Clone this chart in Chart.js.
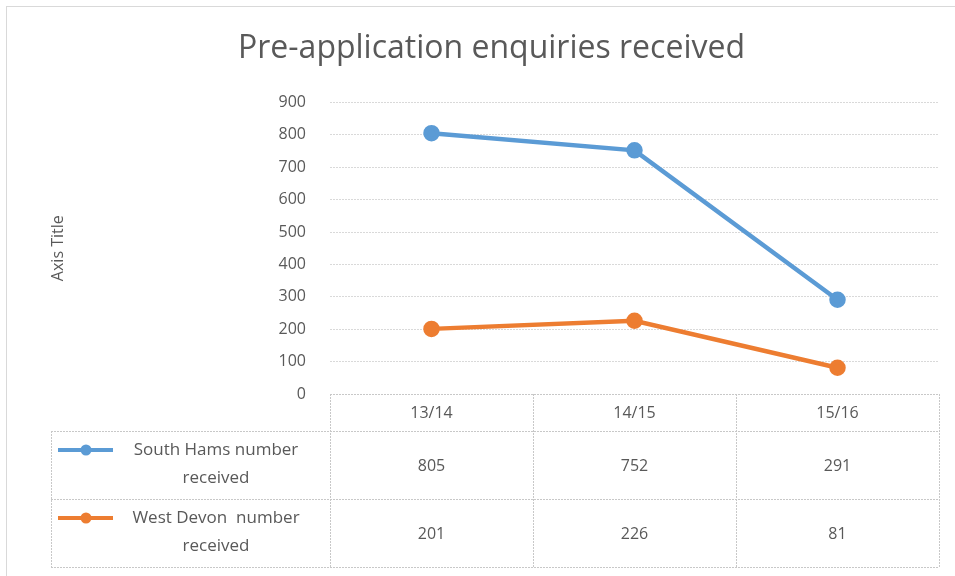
<!DOCTYPE html>
<html>
<head>
<meta charset="utf-8">
<script src="https://cdn.jsdelivr.net/npm/chart.js@4"></script>
<style>
  html,body{margin:0;padding:0;background:#fff;}
  #wrap{position:absolute;left:0;top:0;width:955px;height:576px;}
  #frame{position:absolute;left:6px;top:6px;width:960px;height:580px;border:1px solid #d9d9d9;box-sizing:border-box;pointer-events:none;}
</style>
</head>
<body>
<div id="wrap"><canvas id="chart" width="955" height="576"></canvas></div>
<div id="frame"></div>
<script>
// data
const categories = ["13/14", "14/15", "15/16"];
const southHams = [805, 752, 291];
const westDevon = [201, 226, 81];
const seriesNames = ["South Hams number received", "West Devon  number received"];
const seriesLines = [["South Hams number", "received"], ["West Devon  number", "received"]];
const yMin = 0, yMax = 900, yStep = 100;

const BLUE = "#5b9bd5", ORANGE = "#ed7d31", TXT = "#595959";
const FONT = "'Open Sans', 'Noto Sans', sans-serif";

// draws the Excel style data table under the plot, from the x scale
const dataTable = {
  id: "dataTable",
  afterDraw(chart){
    const {ctx, chartArea:{left, right, bottom}, scales:{x}} = chart;
    const hdrH = 37, rowH = 68, legLeft = 51;
    const edges = [left];
    for(let i = 0; i < categories.length - 1; i++){
      edges.push((x.getPixelForValue(i) + x.getPixelForValue(i + 1)) / 2);
    }
    edges.push(right);
    const tableBottom = bottom + hdrH + rowH * 2;

    ctx.save();
    ctx.strokeStyle = "#c8c8c8";
    ctx.lineWidth = 1;
    ctx.setLineDash([2, 1]);
    ctx.beginPath();
    // horizontal
    ctx.moveTo(left, bottom + 0.5); ctx.lineTo(right, bottom + 0.5);
    for(let r = 0; r <= 2; r++){
      const y = Math.round(bottom + hdrH + r * rowH) + 0.5;
      ctx.moveTo(legLeft, y); ctx.lineTo(right, y);
    }
    // vertical
    edges.forEach(e => {
      const xx = Math.round(e) + 0.5;
      ctx.moveTo(xx, bottom); ctx.lineTo(xx, tableBottom);
    });
    ctx.moveTo(legLeft + 0.5, bottom + hdrH); ctx.lineTo(legLeft + 0.5, tableBottom);
    ctx.stroke();
    ctx.setLineDash([]);

    ctx.fillStyle = TXT;
    ctx.font = `16px ${FONT}`;
    ctx.textAlign = "center";
    ctx.textBaseline = "middle";
    categories.forEach((c, i) => {
      ctx.fillText(c, x.getPixelForValue(i), bottom + hdrH / 2 + 1);
    });

    chart.data.datasets.forEach((ds, r) => {
      const top = bottom + hdrH + r * rowH;
      ds.data.forEach((v, i) => {
        ctx.fillStyle = TXT;
        ctx.fillText(String(v), x.getPixelForValue(i), top + rowH / 2 + 1);
      });
      // legend key
      const ky = top + 19;
      ctx.strokeStyle = ds.borderColor;
      ctx.lineWidth = 4;
      ctx.beginPath();
      ctx.moveTo(58, ky); ctx.lineTo(113, ky);
      ctx.stroke();
      ctx.fillStyle = ds.borderColor;
      ctx.beginPath();
      ctx.arc(86, ky, 5.5, 0, Math.PI * 2);
      ctx.fill();
      ctx.fillStyle = TXT;
      ctx.font = `17px ${FONT}`;
      seriesLines[r].forEach((ln, k) => {
        ctx.fillText(ln, 216, ky + k * 28);
      });
      ctx.font = `16px ${FONT}`;
    });
    ctx.restore();
  }
};

const yTicks = [];
for(let v = yMin; v <= yMax; v += yStep) yTicks.push(v);

new Chart(document.getElementById("chart"), {
  type: "line",
  data: {
    labels: categories,
    datasets: [
      {
        label: seriesNames[0],
        data: southHams,
        borderColor: BLUE,
        backgroundColor: BLUE,
        borderWidth: 4.5,
        pointRadius: 6,
        pointHoverRadius: 6,
        tension: 0
      },
      {
        label: seriesNames[1],
        data: westDevon,
        borderColor: ORANGE,
        backgroundColor: ORANGE,
        borderWidth: 4.5,
        pointRadius: 6,
        pointHoverRadius: 6,
        tension: 0
      }
    ]
  },
  options: {
    responsive: false,
    animation: false,
    layout: {padding: {left: 44, right: 16, top: 0, bottom: 182}},
    plugins: {
      legend: {display: false},
      tooltip: {enabled: false},
      title: {
        display: true,
        text: "Pre-application enquiries received",
        color: TXT,
        font: {family: FONT, size: 32, weight: "normal"},
        padding: {top: 30, bottom: 34}
      }
    },
    scales: {
      x: {
        display: false,
        offset: true
      },
      y: {
        min: yMin,
        max: yMax,
        afterBuildTicks: s => { s.ticks = yTicks.map(v => ({value: v})); },
        afterFit: s => { s.width = 330 - 44; },
        ticks: {color: TXT, font: {family: FONT, size: 16}, padding: 24},
        grid: {color: "#d9d9d9", drawTicks: false},
        border: {display: false, dash: [2, 1]},
        title: {
          display: true,
          text: "Axis Title",
          color: TXT,
          font: {family: FONT, size: 16},
          padding: {top: 5, bottom: 0}
        }
      }
    }
  },
  plugins: [dataTable]
});
</script>
</body>
</html>
